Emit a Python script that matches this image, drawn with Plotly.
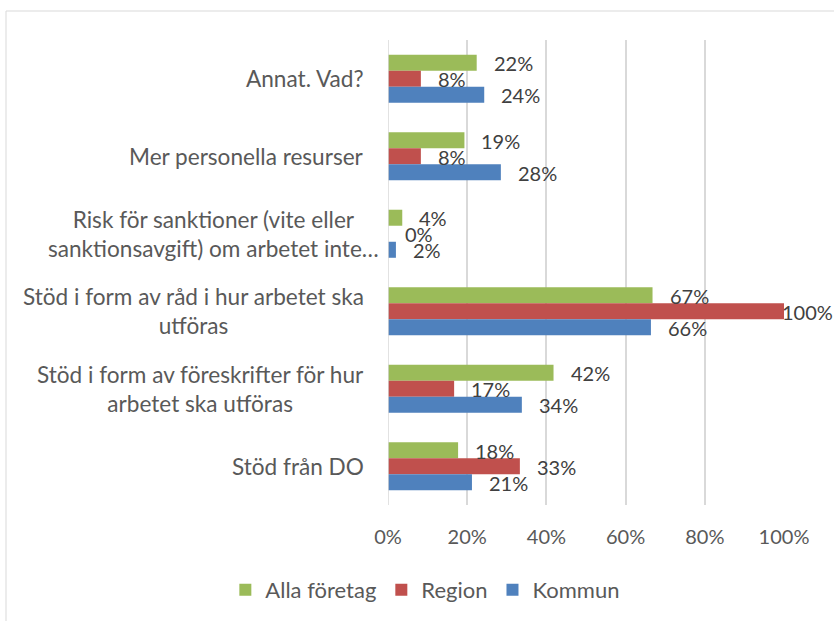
import plotly.graph_objects as go

# Categories, top to bottom as shown
categories = [
    "Annat. Vad?",
    "Mer personella resurser",
    "Risk för sanktioner (vite eller<br>sanktionsavgift) om arbetet inte…",
    "Stöd i form av råd i hur arbetet ska<br>utföras",
    "Stöd i form av föreskrifter för hur<br>arbetet ska utföras",
    "Stöd från DO",
]
series_names = ["Alla företag", "Region", "Kommun"]
alla_foretag = [0.224, 0.193, 0.036, 0.668, 0.418, 0.177]
region = [0.083, 0.083, 0.0, 1.0, 0.167, 0.333]
kommun = [0.243, 0.285, 0.020, 0.664, 0.338, 0.212]
x_ticks = [0, 0.2, 0.4, 0.6, 0.8, 1.0]

colors = ["#9BBB59", "#C0504D", "#4F81BD"]
FONT = "Lato"
W, H = 834, 621
L, R, T, B = 388, 50, 40, 116
BARGAP = 0.38

fig = go.Figure()
all_series = [alla_foretag, region, kommun]
for name, vals, col in zip(series_names, all_series, colors):
    fig.add_trace(go.Bar(
        y=list(range(len(categories))), x=vals, name=name, orientation="h",
        marker=dict(color=col, line=dict(width=0)), hoverinfo="skip",
    ))

# data labels
n = len(all_series)
bw = (1 - BARGAP) / n
for k, vals in enumerate(all_series):
    off = -(1 - BARGAP) / 2 + bw / 2 + k * bw
    for i, v in enumerate(vals):
        fig.add_annotation(
            x=v, y=i + off, xref="x", yref="y", text=f"{round(v*100)}%",
            showarrow=False, xanchor="left", yanchor="middle",
            xshift=(-4 if v >= 1 else 15), yshift=-0.5,
            font=dict(family=FONT, size=20, color="#404040"),
        )

# category labels (centered multi-line, right-anchored to axis)
for i, c in enumerate(categories):
    fig.add_annotation(
        x=0, y=i, xref="paper", yref="y", text=c, showarrow=False,
        xanchor="right", yanchor="middle", align="center",
        xshift=(-7 if "Risk" in c else -22),
        font=dict(family=FONT, size=22.6, color="#595959"),
    )

pw = W - L - R
ph = H - T - B
px = lambda p: (p - L) / pw
py = lambda p: (H - B - p) / ph
fig.add_shape(type="line", xref="paper", yref="paper", x0=px(6), x1=px(900), y0=py(11), y1=py(11),
              line=dict(color="#d9d9d9", width=1))
fig.add_shape(type="line", xref="paper", yref="paper", x0=px(6), x1=px(6), y0=py(11), y1=py(700),
              line=dict(color="#d9d9d9", width=1))

fig.update_layout(
    width=W, height=H, barmode="group", bargap=BARGAP, bargroupgap=0,
    margin=dict(l=L, r=R, t=T, b=B),
    plot_bgcolor="white", paper_bgcolor="white",
    font=dict(family=FONT, size=20, color="#595959"),
    xaxis=dict(range=[0, 1], tickvals=x_ticks, tickformat=".0%", showgrid=True,
               gridcolor="#d9d9d9", gridwidth=1.5, zeroline=False, showline=False,
               ticks="", ticklabelstandoff=18, tickfont=dict(family=FONT, size=20, color="#595959")),
    yaxis=dict(range=[len(categories) - 0.5, -0.5], showticklabels=False, showgrid=False,
               zeroline=False, showline=False, ticks=""),
    showlegend=True,
    legend=dict(orientation="h", xref="container", yref="container", x=0.51, y=0.05,
                xanchor="center", yanchor="middle",
                font=dict(family=FONT, size=22, color="#595959"), itemwidth=30),
)
fig.add_shape(type="line", xref="x", yref="paper", x0=0, x1=0, y0=0, y1=1,
              line=dict(color="#d9d9d9", width=1.5))

fig.write_html("out.html", config={"displayModeBar": False},
               post_script="document.body.style.margin='0';document.body.style.overflow='hidden';")
